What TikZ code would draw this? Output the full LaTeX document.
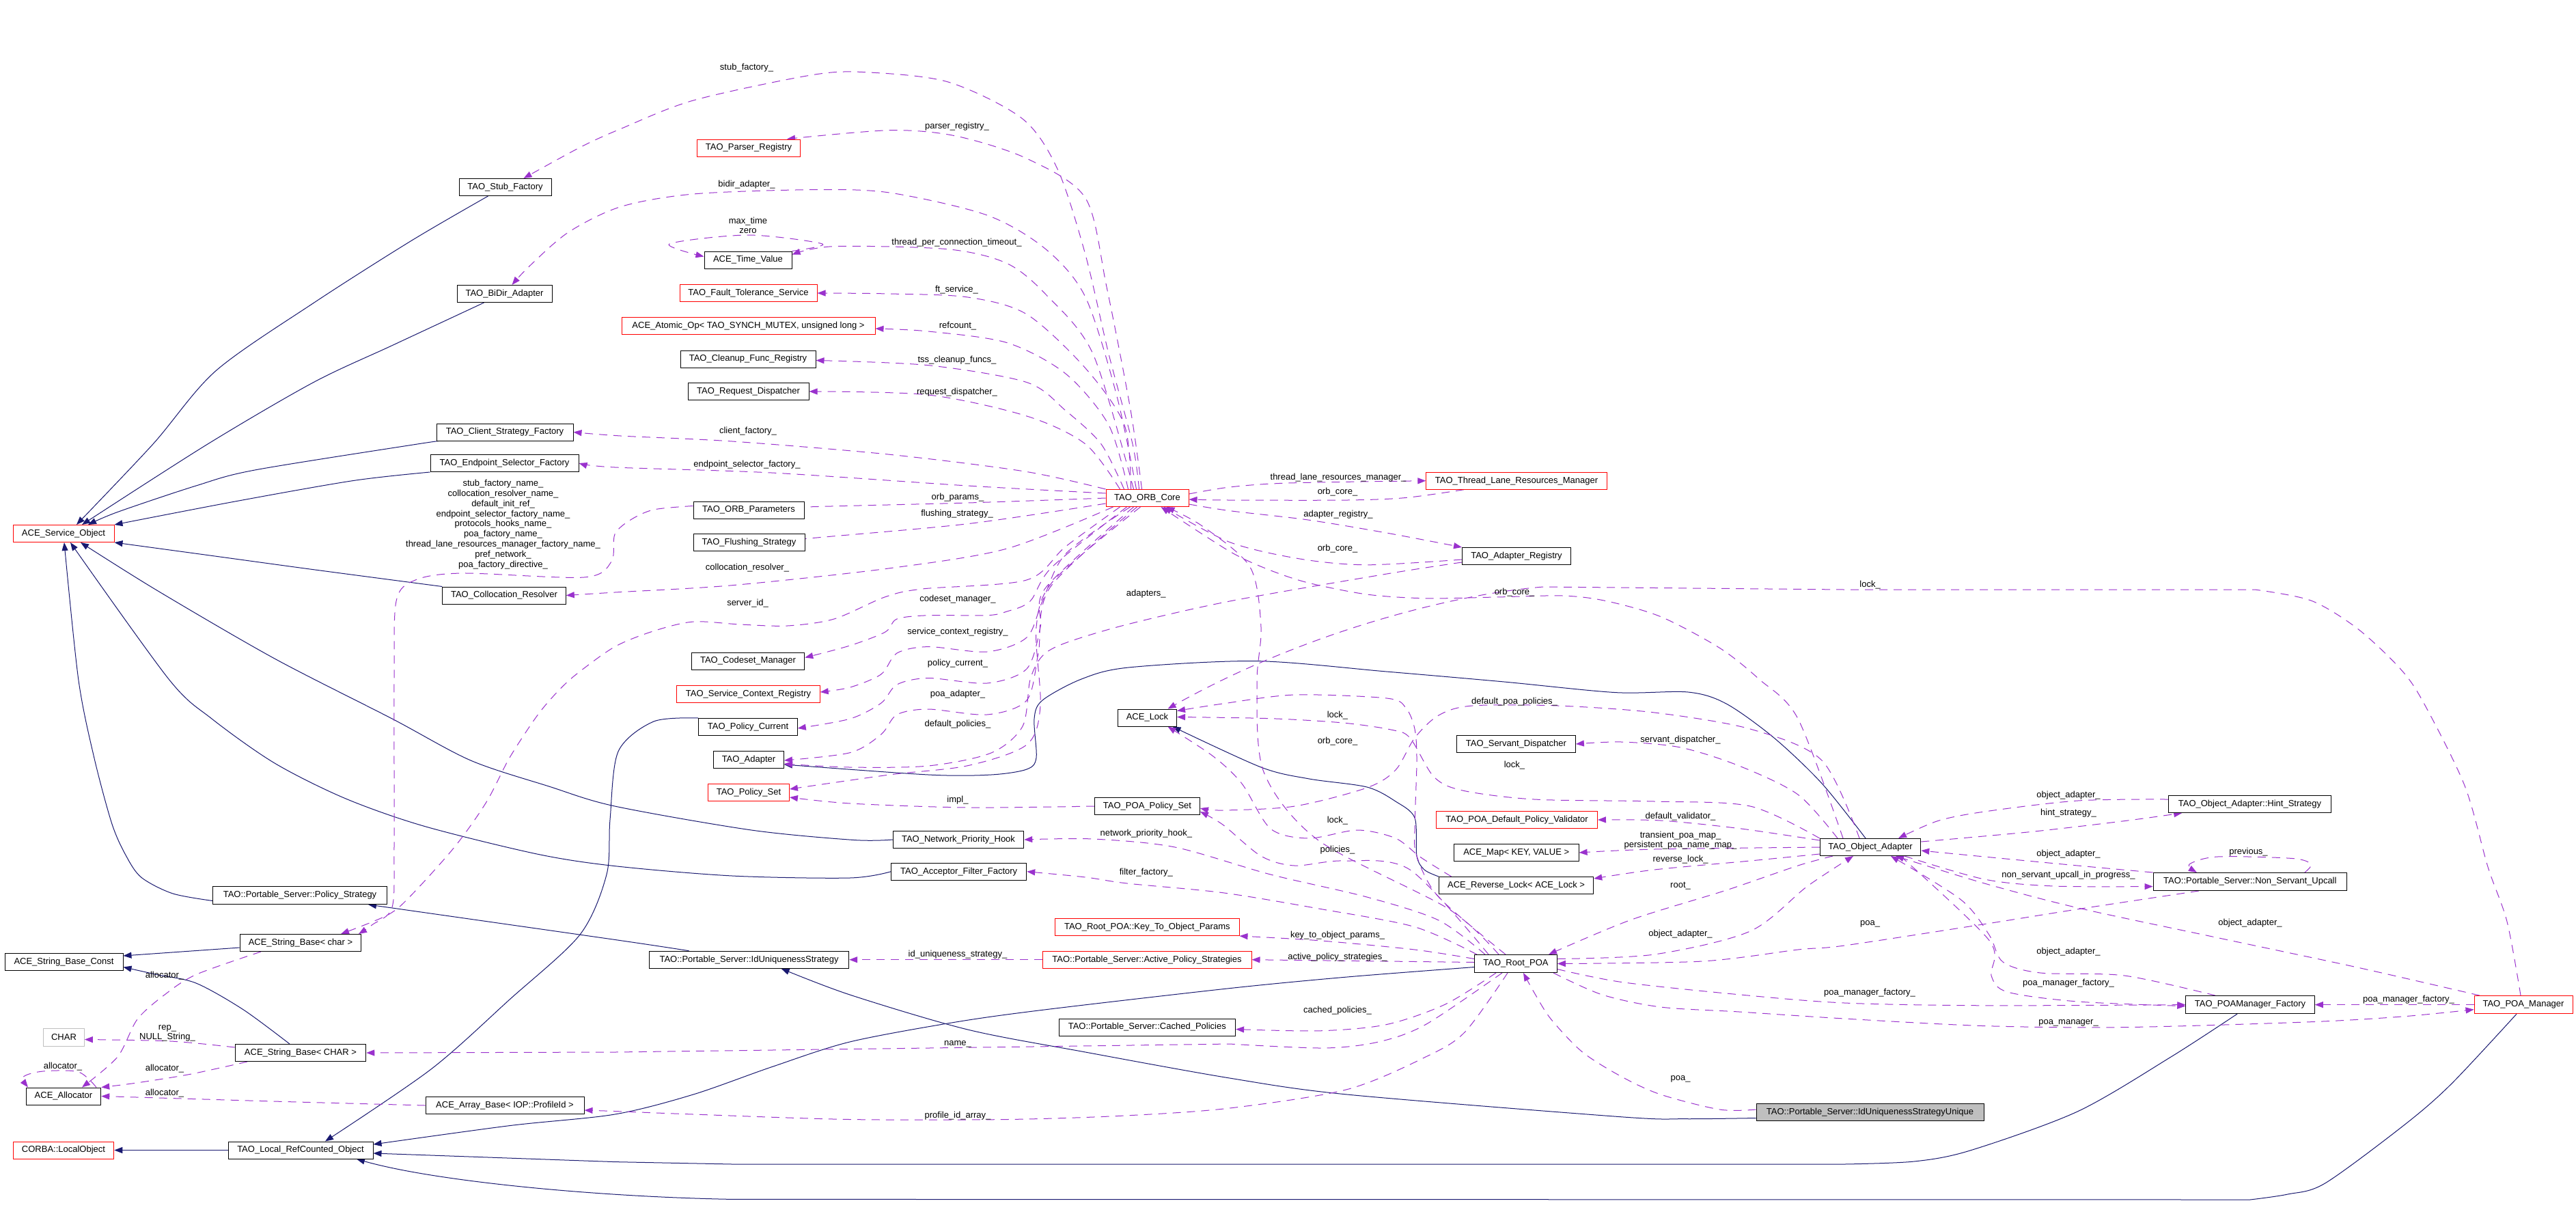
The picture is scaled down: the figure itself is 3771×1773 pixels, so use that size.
\documentclass[tikz,border=0pt]{standalone}
\usepackage{fontspec}
\newfontfamily\dox{Liberation Sans}
\usetikzlibrary{arrows.meta}
\definecolor{dorchid}{RGB}{154,50,205}
\definecolor{mnblue}{RGB}{25,25,112}
\definecolor{greyb}{RGB}{191,191,191}
\pgfdeclarelayer{bg}
\pgfsetlayers{bg,main}
\tikzset{
  every node/.style={font=\dox\fontsize{13pt}{15pt}\selectfont},
  box/.style={draw=black, line width=1pt, fill=white, inner sep=0pt, minimum height=25pt},
  redbox/.style={box, draw=red},
  usage/.style={draw=dorchid, line width=1pt, dash pattern=on 12pt off 9pt, -{Triangle[length=12pt,width=9pt]}},
  inherit/.style={draw=mnblue, line width=1pt, -{Triangle[length=12pt,width=9pt]}},
  lbl/.style={inner sep=0pt},
}
\begin{document}
\begin{tikzpicture}[x=1pt,y=-1pt]
\useasboundingbox (0,0) rectangle (3771,1773);
% ---------------- nodes
\node[box, minimum width=135pt] (stub) at (739.5,274) {TAO\_Stub\_Factory};
\node[box, minimum width=139pt] (bidir) at (738.5,430) {TAO\_BiDir\_Adapter};
\node[box, minimum width=200pt] (csf) at (739,632.5) {TAO\_Client\_Strategy\_Factory};
\node[box, minimum width=217pt] (esf) at (738.5,678) {TAO\_Endpoint\_Selector\_Factory};
\node[redbox, minimum width=148pt] (aso) at (93,781) {ACE\_Service\_Object};
\node[box, minimum width=180.5pt] (coll) at (738,871.5) {TAO\_Collocation\_Resolver};
\node[redbox, minimum width=151pt] (parser) at (1096,216.5) {TAO\_Parser\_Registry};
\node[box, minimum width=128pt] (timev) at (1095,380.5) {ACE\_Time\_Value};
\node[redbox, minimum width=201pt] (fts) at (1095.5,429) {TAO\_Fault\_Tolerance\_Service};
\node[redbox, minimum width=371pt] (atomic) at (1095.5,477) {ACE\_Atomic\_Op< TAO\_SYNCH\_MUTEX, unsigned long >};
\node[box, minimum width=198pt] (cfr) at (1095,525.5) {TAO\_Cleanup\_Func\_Registry};
\node[box, minimum width=177pt] (rd) at (1095.5,573) {TAO\_Request\_Dispatcher};
\node[redbox, minimum width=121pt] (orbcore) at (1679.5,729) {TAO\_ORB\_Core};
\node[box, minimum width=162pt] (orbparams) at (1096,746.5) {TAO\_ORB\_Parameters};
\node[box, minimum width=163pt] (flush) at (1096.5,794) {TAO\_Flushing\_Strategy};
\node[box, minimum width=165.5pt] (codeset) at (1095,967.5) {TAO\_Codeset\_Manager};
\node[redbox, minimum width=209.3pt] (scr) at (1095.5,1016) {TAO\_Service\_Context\_Registry};
\node[box, minimum width=144.5pt] (pcur) at (1095,1064) {TAO\_Policy\_Current};
\node[box, minimum width=102.8pt] (adapter) at (1096,1112) {TAO\_Adapter};
\node[redbox, minimum width=118.8pt] (pset) at (1096,1160) {TAO\_Policy\_Set};
\node[box, minimum width=86pt] (acelock) at (1679.5,1050.5) {ACE\_Lock};
\node[box, minimum width=153.8pt] (poapset) at (1679.5,1180) {TAO\_POA\_Policy\_Set};
\node[box, minimum width=191.5pt] (nph) at (1403,1229) {TAO\_Network\_Priority\_Hook};
\node[box, minimum width=198pt] (aff) at (1403.7,1275.7) {TAO\_Acceptor\_Filter\_Factory};
\node[redbox, minimum width=269.4pt] (ktop) at (1679.3,1357) {TAO\_Root\_POA::Key\_To\_Object\_Params};
\node[box, minimum width=292.2pt] (idus) at (1096.6,1404.7) {TAO::Portable\_Server::IdUniquenessStrategy};
\node[redbox, minimum width=306pt] (aps) at (1679,1404.7) {TAO::Portable\_Server::Active\_Policy\_Strategies};
\node[box, minimum width=258.6pt] (cpol) at (1679.3,1503.5) {TAO::Portable\_Server::Cached\_Policies};
\node[redbox, minimum width=264.4pt] (tlrm) at (2220,703.7) {TAO\_Thread\_Lane\_Resources\_Manager};
\node[box, minimum width=159pt] (areg) at (2220,814) {TAO\_Adapter\_Registry};
\node[box, minimum width=173.9pt] (sdisp) at (2219.4,1089) {TAO\_Servant\_Dispatcher};
\node[redbox, minimum width=235.9pt] (pdpv) at (2220.5,1200) {TAO\_POA\_Default\_Policy\_Validator};
\node[box, minimum width=182.7pt] (acemap) at (2219.7,1248) {ACE\_Map< KEY, VALUE >};
\node[box, minimum width=226.2pt] (rlock) at (2219.6,1296) {ACE\_Reverse\_Lock< ACE\_Lock >};
\node[box, minimum width=120.5pt, minimum height=26pt] (rootpoa) at (2219,1410.5) {TAO\_Root\_POA};
\node[box, minimum width=333pt, fill=greyb] (idusu) at (2737.5,1628) {TAO::Portable\_Server::IdUniquenessStrategyUnique};
\node[box, minimum width=147.5pt] (oa) at (2738,1240) {TAO\_Object\_Adapter};
\node[box, minimum width=237.7pt] (hint) at (3293.5,1177) {TAO\_Object\_Adapter::Hint\_Strategy};
\node[box, minimum width=283.6pt, minimum height=26pt] (nsu) at (3293.8,1290.5) {TAO::Portable\_Server::Non\_Servant\_Upcall};
\node[box, minimum width=188.5pt, minimum height=26pt] (poamf) at (3294,1470.6) {TAO\_POAManager\_Factory};
\node[redbox, minimum width=144pt, minimum height=26pt] (poam) at (3694,1470.6) {TAO\_POA\_Manager};
\node[box, minimum width=254.5pt, minimum height=26pt] (polstrat) at (439,1310.5) {TAO::Portable\_Server::Policy\_Strategy};
\node[box, minimum width=177.6pt] (sbchar) at (440,1380) {ACE\_String\_Base< char >};
\node[box, minimum width=173pt] (sbconst) at (93.5,1408) {ACE\_String\_Base\_Const};
\node[box, draw=greyb, minimum width=59.7pt, minimum height=26pt] (charn) at (93.5,1518.5) {CHAR};
\node[box, minimum width=191.5pt] (sbCHAR) at (440,1541) {ACE\_String\_Base< CHAR >};
\node[box, minimum width=109.5pt] (alloc) at (93,1604.5) {ACE\_Allocator};
\node[box, minimum width=232pt] (arrb) at (739,1618) {ACE\_Array\_Base< IOP::ProfileId >};
\node[redbox, minimum width=147.5pt] (corba) at (93,1683.5) {CORBA::LocalObject};
\node[box, minimum width=212pt] (lro) at (440,1683.5) {TAO\_Local\_RefCounted\_Object};
% ---------------- labels
\node[lbl] (l1) at (1093,99.5) {stub\_factory\_};
\node[lbl] (l2) at (1401,185) {parser\_registry\_};
\node[lbl] (l3) at (1093,270) {bidir\_adapter\_};
\node[lbl, align=center, font=\dox\fontsize{13pt}{14.5pt}\selectfont] (l4) at (1095,329.8) {max\_time\\zero};
\node[lbl] (l5) at (1400.5,355) {thread\_per\_connection\_timeout\_};
\node[lbl] (l6) at (1400.5,424.5) {ft\_service\_};
\node[lbl] (l7) at (1402,477) {refcount\_};
\node[lbl] (l8) at (1401,527) {tss\_cleanup\_funcs\_};
\node[lbl] (l9) at (1401,574.5) {request\_dispatcher\_};
\node[lbl] (l10) at (1095,631) {client\_factory\_};
\node[lbl] (l11) at (1093.5,680) {endpoint\_selector\_factory\_};
\node[lbl, align=center, font=\dox\fontsize{13pt}{14.8pt}\selectfont] (l12) at (736.5,767.6) {stub\_factory\_name\_\\collocation\_resolver\_name\_\\default\_init\_ref\_\\endpoint\_selector\_factory\_name\_\\protocols\_hooks\_name\_\\poa\_factory\_name\_\\thread\_lane\_resources\_manager\_factory\_name\_\\pref\_network\_\\poa\_factory\_directive\_};
\node[lbl] (l13) at (1402,728) {orb\_params\_};
\node[lbl] (l14) at (1401,752.6) {flushing\_strategy\_};
\node[lbl] (l15) at (1094,830.6) {collocation\_resolver\_};
\node[lbl] (l16) at (1094.6,882.7) {server\_id\_};
\node[lbl] (l17) at (1402,877) {codeset\_manager\_};
\node[lbl] (l18) at (1677.8,869) {adapters\_};
\node[lbl] (l19) at (1402,924.8) {service\_context\_registry\_};
\node[lbl] (l20) at (1402,971) {policy\_current\_};
\node[lbl] (l21) at (1402,1015.9) {poa\_adapter\_};
\node[lbl] (l22) at (1402,1060.6) {default\_policies\_};
\node[lbl] (l23) at (1402,1171) {impl\_};
\node[lbl] (l24) at (1677.8,1220) {network\_priority\_hook\_};
\node[lbl] (l25) at (1677.8,1276.7) {filter\_factory\_};
\node[lbl] (l26) at (1402,1397) {id\_uniqueness\_strategy\_};
\node[lbl] (l27) at (1402,1527.8) {name\_};
\node[lbl] (l28) at (1402,1633) {profile\_id\_array\_};
\node[lbl] (l29) at (1959,699) {thread\_lane\_resources\_manager\_};
\node[lbl] (l30) at (1958,720) {orb\_core\_};
\node[lbl] (l31) at (1959,753) {adapter\_registry\_};
\node[lbl] (l32) at (1958,803) {orb\_core\_};
\node[lbl] (l33) at (2217,867) {orb\_core\_};
\node[lbl] (l34) at (2737.6,856) {lock\_};
\node[lbl] (l35) at (2217,1027) {default\_poa\_policies\_};
\node[lbl] (l36) at (1958,1047) {lock\_};
\node[lbl] (l37) at (1958,1085) {orb\_core\_};
\node[lbl] (l38) at (2460,1083.6) {servant\_dispatcher\_};
\node[lbl] (l39) at (2217,1119.6) {lock\_};
\node[lbl] (l40) at (1958,1200.7) {lock\_};
\node[lbl] (l41) at (2460,1194.6) {default\_validator\_};
\node[lbl, align=center, font=\dox\fontsize{13pt}{13.8pt}\selectfont] (l42) at (2460,1229.8) {transient\_poa\_map\_\\persistent\_poa\_name\_map\_};
\node[lbl] (l43) at (1958,1244) {policies\_};
\node[lbl] (l44) at (2460,1258.5) {reverse\_lock\_};
\node[lbl] (l45) at (2460,1297) {root\_};
\node[lbl] (l46) at (1958,1369) {key\_to\_object\_params\_};
\node[lbl] (l47) at (1958,1401) {active\_policy\_strategies\_};
\node[lbl] (l48) at (2460,1367) {object\_adapter\_};
\node[lbl] (l49) at (1958,1479.5) {cached\_policies\_};
\node[lbl] (l50) at (2460,1579) {poa\_};
\node[lbl] (l51) at (2737,1453) {poa\_manager\_factory\_};
\node[lbl] (l52) at (241,1428) {allocator\_};
\node[lbl, align=center, font=\dox\fontsize{13pt}{14pt}\selectfont] (l53) at (245,1512) {rep\_\\NULL\_String\_};
\node[lbl] (l54) at (92,1561) {allocator\_};
\node[lbl] (l55) at (241,1564) {allocator\_};
\node[lbl] (l56) at (241,1600.5) {allocator\_};
\node[lbl] (l57) at (3028,1164) {object\_adapter\_};
\node[lbl] (l58) at (3028,1190.5) {hint\_strategy\_};
\node[lbl] (l59) at (3028,1250.5) {object\_adapter\_};
\node[lbl] (l60) at (3291.5,1247) {previous\_};
\node[lbl] (l61) at (3028,1281) {non\_servant\_upcall\_in\_progress\_};
\node[lbl] (l62) at (2737.6,1352) {poa\_};
\node[lbl] (l63) at (3294,1351) {object\_adapter\_};
\node[lbl] (l64) at (3028,1393) {object\_adapter\_};
\node[lbl] (l65) at (3028,1439) {poa\_manager\_factory\_};
\node[lbl] (l66) at (3526,1463) {poa\_manager\_factory\_};
\node[lbl] (l67) at (3028,1497) {poa\_manager\_};
% ---------------- edges
\begin{pgfonlayer}{bg}
\fill[white] (0,0) rectangle (3771,1773);
% inheritance
\draw[inherit] plot[smooth] coordinates {([xshift=-25pt]stub.south) (602.7,352) (459,443.5) (315.7,543) (224,650) ([xshift=19pt]aso.north)};
\draw[inherit] plot[smooth] coordinates {([xshift=-30pt]bidir.south) (574,505.7) (459,559.6) (304,650) ([xshift=27pt]aso.north)};
\draw[inherit] plot[smooth] coordinates {([xshift=6pt]csf.south west) (611,650) (373,688) (287,711) (172,749.5) ([xshift=36pt]aso.north)};
\draw[inherit] plot[smooth] coordinates {(esf.south west) (516.6,703.6) (344,734) (aso.north east)};
\draw[inherit] plot[smooth] coordinates {(coll.north west) (459,833.7) (300,812) (aso.south east)};
\draw[inherit] plot[smooth] coordinates {(nph.west) (1250,1229.5) (1100,1215) (900,1180) (803.6,1151) (689,1113) (574,1052) (402,964) (229.6,864) ([xshift=25pt]aso.south)};
\draw[inherit] plot[smooth] coordinates {(aff.west) (1244,1285) (1072,1282) (900,1267.6) (786,1250) (620,1209) (505,1168.5) (402,1117) (310,1052) (247,994) ([xshift=10pt]aso.south)};
\draw[inherit] plot[smooth] coordinates {([yshift=-8pt]polstrat.west) (252.6,1307.8) (206.6,1284) (183.7,1251) (163.6,1205) (137.8,1109) (114.8,994.4) ([xshift=1pt]aso.south)};
\draw[inherit] plot[smooth] coordinates {([xshift=-88pt]idus.north) (900,1375.4) ([xshift=100pt]polstrat.south)};
\draw[inherit] ([yshift=-7pt]sbchar.west) -- ([yshift=9pt]sbconst.east);
\draw[inherit] plot[smooth] coordinates {([xshift=-16pt]sbCHAR.north) (356,1477.7) (287,1439) (229.6,1426.5) ([yshift=-7.5pt]sbconst.east)};
\draw[inherit] (lro.west) -- (corba.east);
\draw[inherit] plot[smooth] coordinates {(pcur.north west) (957,1056) (905,1100) (893,1200) (888,1280) (849,1368) (746,1463) (631,1565) ([xshift=36pt]lro.north)};
\draw[inherit] plot[smooth] coordinates {([yshift=-5pt]rootpoa.west) (1972,1430) (1800,1446.6) (1531,1477.7) (1399,1496) (1244,1525) (1129.6,1561.7) (1014.8,1602) (900,1631) (746,1647.6) ([yshift=8.5pt]lro.east)};
\draw[inherit] plot[smooth] coordinates {([xshift=-19pt]poamf.south) (3178,1547) (3041.5,1626.8) (2884,1684) (2802,1700) (2700,1704)} -- (1072,1704) -- (900,1700.6) -- ([yshift=-4.5pt]lro.east);
\draw[inherit] plot[smooth] coordinates {([xshift=-10pt]poam.south) (3588,1587) (3519.6,1646.6) (3403.5,1732) (3349,1748) (3294,1756)} -- (1072,1755.4) .. controls (880,1752) and (640,1730) .. ([xshift=82pt]lro.south);
\draw[inherit] plot[smooth] coordinates {([yshift=-8.5pt]idusu.west) (2466,1637.7) (2374,1634.8) (1972,1602) (1800,1578) (1589,1540) (1416.6,1507) (1244,1456) ([xshift=47pt]idus.south)};
\draw[inherit] plot[smooth] coordinates {([xshift=-7pt]oa.north) (2667,1146.7) (2597,1080) (2527,1030) (2471,1013) (2365,1013.6) (2202,998) (2029.6,983) (1840,967.6) (1652,977) (1583,994) (1526,1025) (1514,1052) (1517,1109) (1503,1126) (1451,1134) (1359,1134) ([yshift=-7pt]adapter.east)};
\draw[inherit] plot[smooth] coordinates {(rlock.north west) (2085,1273) (2074,1253) (2071,1197) (2043,1173) (2001,1152) (1916.6,1140) (1846,1123) ([xshift=37pt]acelock.south)};
% usage from ORB core
\draw[usage] plot[smooth] coordinates {([xshift=-12pt]orbcore.north) (1658,650) (1623,518) (1589,373) (1548.6,248.7) (1497,174) (1388,120) (1267,105.7) (1187,110) (1014.8,147) (908.6,188.6) (849.5,215.5) ([xshift=27pt]stub.north)};
\draw[usage] plot[smooth] coordinates {([xshift=-8pt]orbcore.north) (1655,600) (1620,420) (1589,290) (1503,232) (1399,199) (1302,190.7) ([xshift=56pt]parser.north)};
\draw[usage] plot[smooth] coordinates {([xshift=-16pt]orbcore.north) (1635,580) (1589,435) (1531,364.8) (1445,315) (1302,282) (1187,277.7) (1014.8,284) (908.6,302.6) (832,340) (775,389.6) ([xshift=11pt]bidir.north)};
\draw[usage] plot[smooth] coordinates {([xshift=-20pt]orbcore.north) (1600,518) (1531,431) (1474,385.5) (1388,364.8) (1221,360.6) ([yshift=8pt]timev.east)};
\draw[usage] plot[smooth] coordinates {(timev.north east) (1204,357) (1095,344) (980,357) ([yshift=5pt]timev.west)};
\draw[usage] plot[smooth] coordinates {([xshift=-24pt]orbcore.north) (1646,622) (1589,539) (1503,460) (1416.6,435) (1302,430) (fts.east)};
\draw[usage] plot[smooth] coordinates {([xshift=-28pt]orbcore.north) (1623,622) (1560,547) (1474,501.6) (1359,485) ([yshift=-4pt]atomic.east)};
\draw[usage] plot[smooth] coordinates {([xshift=-34pt]orbcore.north) (1612,650) (1560,601) (1503,559.6) (1359,534.7) ([yshift=-2pt]cfr.east)};
\draw[usage] plot[smooth] coordinates {([xshift=-40pt]orbcore.north) (1589,650) (1503,609) (1359,578) (rd.east)};
\draw[usage] plot[smooth] coordinates {(orbcore.north west) (1500,690) (1300,665) (1072,646) (908.6,638) (csf.east)};
\draw[usage] plot[smooth] coordinates {([yshift=7pt]orbcore.west) (1416.6,711) (1129.6,692) (900,684) (esf.east)};
\draw[usage] plot[smooth] coordinates {(orbcore.west) (1416.6,736) (1187,741.8) ([yshift=3pt]orbparams.east)};
\draw[usage] plot[smooth] coordinates {([yshift=-8pt]orbcore.west) (1416.6,766.7) (1187,787.8) ([yshift=4pt]flush.east)};
\draw[usage] plot[smooth] coordinates {([xshift=-50pt]orbcore.south) (1474,803) (1302,831.8) (1072,856.7) (900,867) (coll.east)};
\draw[usage] plot[smooth] coordinates {([xshift=-40pt]orbcore.south) (1560,800) (1502.7,849) (1350,862) (1295,874) (1221,906) (1152.6,916) (1083.7,914) (1015,910) (957,923.6) (900,946.6) (843.8,986.8) (815,1013.6) (786,1048) (746,1109) (712,1174) (666,1239) (602.7,1309.6) (568,1339) ([xshift=59pt]sbchar.north)};
\draw[usage] plot[smooth] coordinates {([yshift=6pt]orbparams.west) (957,746) (923,761) (900,782) (895,822) (855,845) (677,839) (608,849) (580,880) (577,1000) (577,1239) (574,1328) (545,1353.5) ([xshift=85pt]sbchar.north)};
\draw[usage] plot[smooth] coordinates {([xshift=-30pt]orbcore.south) (1540,830) (1508,880) (1474,895) (1445,900.7) (1359,900.7) (1313,906) (1296,925) (1244,945) ([yshift=5pt]codeset.east)};
\draw[usage] plot[smooth] coordinates {([xshift=-25pt]orbcore.south) (1560,810.7) (1526,880) (1503,933) (1445,954) (1359,946.6) (1313,956) (1290,986.8) (1244.6,1006) ([yshift=3pt]scr.east)};
\draw[usage] plot[smooth] coordinates {([xshift=-20pt]orbcore.south) (1531,860) (1523,918) (1503,979) (1445,1000) (1359,992.5) (1313,1002) (1290,1029) (1244.6,1052) ([yshift=-2pt]pcur.east)};
\draw[usage] plot[smooth] coordinates {([xshift=-15pt]orbcore.south) (1537,860) (1520,956) (1503,1025) (1445,1046) (1359,1038) (1313,1046) (1290,1074.8) (1244.6,1101.6) ([yshift=-1pt]adapter.east)};
\draw[usage] plot[smooth] coordinates {([xshift=-10pt]orbcore.south) (1543,849) (1517,918) (1523,1033) (1503,1090) (1416.6,1120.7) (1302,1134) ([yshift=5pt]pset.east)};
\draw[usage] plot[smooth] coordinates {([yshift=-9pt]areg.west) (2030,840) (1800,880) (1650,914) (1560,941) (1526,960) (1508,995) (1497,1063) (1451,1102) (1359,1121) (1244,1123) ([yshift=-6pt]adapter.east)};
\draw[usage] plot[smooth] coordinates {([yshift=6pt]orbcore.east) (1800,713) (1886,707) (tlrm.west)};
\draw[usage] plot[smooth] coordinates {([xshift=-77pt]tlrm.south) (2058,728.5) (1972,732) (1800,732) ([yshift=-2pt]orbcore.east)};
\draw[usage] plot[smooth] coordinates {([yshift=-9pt]orbcore.east) (1800,747.6) (1915,761) (2029.6,780) (areg.north west)};
\draw[usage] plot[smooth] coordinates {([yshift=-5pt]areg.west) (2001,826.8) (1903,818) (1800,793.5) ([xshift=24pt]orbcore.south)};
\draw[usage] plot[smooth] coordinates {([xshift=-40pt]oa.north) (2632,1052) (2575,994) (2517.5,948.5) (2431,902.6) (2351,879.6) (2288,872) (2190,874) (2087,875.8) (2001,870) (1915,853) (1857,833.7) (1800,807) ([xshift=20pt]orbcore.south)};
\draw[usage] plot[smooth] coordinates {([xshift=-4pt]poam.north) (3670,1349) (3642,1269) (3608,1150) (3547,1027) (3513,978) (3451,920) (3383,879) (3301,863)} -- (2700,863) -- (2259,859) .. controls (2120,870) and (1900,930) .. ([xshift=30pt]acelock.north);
\draw[usage] plot[smooth] coordinates {([xshift=-25pt]rootpoa.north) (2120,1330) (1930,1230) (1850,1130) (1840,1000) (1846,918) (1830,830) (1760,770) ([xshift=28pt]orbcore.south)};
\draw[usage] plot[smooth] coordinates {([xshift=-15pt]rootpoa.north) (2106,1313) (2074,1253) (2071,1213) (2074,1113) (2071,1067) (2058,1036) (2030,1022) (1895,1017) (1790,1030) ([yshift=10pt]acelock.east)};
\draw[usage] plot[smooth] coordinates {(oa.north west) (2562,1180) (2421.7,1173) (2246,1170) (2141,1157) (2099,1137) (2064,1080) (2036,1068) (1965.7,1058) (1860,1051.7) ([yshift=1pt]acelock.east)};
\draw[usage] plot[smooth] coordinates {([xshift=-16pt]oa.north) (2667,1113) (2562,1067) (2422,1043) (2281,1033) (2155,1033) (2106,1047) (2071,1080) (2043,1127) (2001,1153) (1895.5,1180) (1790,1186) ([yshift=-3pt]poapset.east)};
\draw[usage] plot[smooth] coordinates {([xshift=-40pt]rootpoa.north) (2064,1273) (1966,1260) (1895,1267) (1846,1253) (1790,1207) ([yshift=-8pt]poapset.east)};
\draw[usage] plot[smooth] coordinates {([xshift=-95pt]rlock.north) (2080,1255) (2043,1227) (1987,1215) (1916,1227) (1860,1213) (1818,1147) (1776,1107) ([xshift=30pt]acelock.south)};
% usage around object adapter / root poa
\draw[usage] plot[smooth] coordinates {([xshift=-48pt]oa.north) (2632,1163) (2546,1121) (2460,1094) (2374,1086) (sdisp.east)};
\draw[usage] plot[smooth] coordinates {([yshift=10pt]oa.west) (2546,1212.6) (2431,1201) (pdpv.east)};
\draw[usage] plot[smooth] coordinates {(oa.west) (2421.7,1243) (acemap.east)};
\draw[usage] plot[smooth] coordinates {([yshift=-10pt]oa.west) (2562,1260) (2421.7,1273) ([yshift=10pt]rlock.east)};
\draw[usage] plot[smooth] coordinates {([xshift=-55pt]oa.south) (2632,1267) (2527,1303) (2386.6,1346.7) ([xshift=48pt]rootpoa.north)};
\draw[usage] plot[smooth] coordinates {([yshift=7pt]rootpoa.east) (2421.7,1397) (2562,1363) (2646,1297) ([xshift=-25pt]oa.south)};
\draw[usage] plot[smooth] coordinates {([xshift=-75pt]nsu.south) (3041.5,1330.8) (2905,1352.6) (2700,1384) (2632,1390) (2492,1407) (rootpoa.east)};
\draw[usage] plot[smooth] coordinates {([yshift=-8pt]rootpoa.east) (2374,1437.5) (2546,1455.8) (2700,1468) (2905,1471.8) (poamf.west)};
\draw[usage] plot[smooth] coordinates {([xshift=55pt]rootpoa.south) (2345,1455.8) (2431,1474) (2546,1481) (2700,1491) (2905,1501.6) (3110,1503.6) (3383,1495.7) (3519.6,1487.7) ([yshift=-7pt]poam.west)};
\draw[usage] plot[smooth] coordinates {([yshift=4pt]idusu.west) (2517.5,1624) (2431,1602) (2374,1576) (2316.6,1540) (2270.7,1492) (2247.7,1456) ([xshift=11pt]rootpoa.south)};
\draw[usage] plot[smooth] coordinates {([yshift=7pt]rootpoa.west) (2071,1390) (1930.6,1376.7) (ktop.south east)};
\draw[usage] ([yshift=2pt]rootpoa.west) -- (aps.east);
\draw[usage] plot[smooth] coordinates {([xshift=-29pt]rootpoa.south) (2115.7,1470) (2029.6,1499.6) (1932,1508.8) ([yshift=-3pt]cpol.east)};
\draw[usage] plot[smooth] coordinates {([xshift=-20pt]rootpoa.south) (2087,1499.6) (2018,1525) (1938,1534) (1800,1528)} -- (1474,1532.5) -- (900,1540) -- (sbCHAR.east);
\draw[usage] plot[smooth] coordinates {([xshift=-12pt]rootpoa.south) (2144.4,1510.6) (2087,1547) (1972,1594.6) (1800,1622) (1646,1633) (1474,1638.5) (1244,1638.5) (1014.8,1631) (900,1626.5) ([yshift=-7pt]arrb.east)};
\draw[usage] plot[smooth] coordinates {([xshift=-45pt]rootpoa.north) (2106,1347) (2001,1313) (1860,1280) (1720,1240) (1600,1228) (nph.east)};
\draw[usage] plot[smooth] coordinates {([xshift=-57pt]rootpoa.north) (2071,1356.7) (1930.6,1330) (1790,1306.7) (1650,1293) (1589,1284) (aff.east)};
\draw[usage] plot[smooth] coordinates {(poapset.west) (1416.6,1182) (1244.6,1176) ([yshift=-7pt]pset.east)};
\draw[usage] (aps.west) -- (idus.east);
\draw[usage] plot[smooth] coordinates {([yshift=7pt]hint.west) (3041.5,1172) (2905,1188) (2836.6,1201.6) ([xshift=41pt]oa.north)};
\draw[usage] plot[smooth] coordinates {([yshift=8pt]oa.east) (2973,1217.5) (3110,1201.6) ([xshift=20pt]hint.south west)};
\draw[usage] plot[smooth] coordinates {(nsu.north west) (3041.5,1267) (2905,1254) ([yshift=-5pt]oa.east)};
\draw[usage] plot[smooth] coordinates {([xshift=50pt]oa.south) (2905,1287) (3007,1297) ([yshift=-7pt]nsu.west)};
\draw[usage] plot[smooth] coordinates {([xshift=80pt]nsu.north) (3383,1265) (3356,1256.5) (3246,1254) (3205,1265) ([xshift=-78pt]nsu.north)};
\draw[usage] plot[smooth] coordinates {([xshift=-64pt]poam.north) (3451,1416) (3246,1372.5) (3041.5,1328.8) (2905,1293) ([xshift=37pt]oa.south)};
\draw[usage] plot[smooth] coordinates {([xshift=-51pt]poamf.north) (3110,1428) (2987,1424) (2932,1408) (2912,1368.5) (2870.7,1317) ([xshift=30pt]oa.south)};
\draw[usage] plot[smooth] coordinates {([xshift=44pt]oa.south) (2912,1376.5) (2915,1428) (2939,1452) (3041.5,1466) ([yshift=-2pt]poamf.west)};
\draw[usage] (poam.west) -- (poamf.east);
% string / allocator area
\draw[usage] plot[smooth] coordinates {([xshift=48pt]alloc.north) (115,1569) (63,1568) (34.4,1576) ([xshift=-52pt]alloc.north)};
\draw[usage] plot[smooth] coordinates {([xshift=-58pt]sbchar.south) (287,1426.5) (241,1456) (201,1492) (172,1547) ([xshift=27pt]alloc.north)};
\draw[usage] plot[smooth] coordinates {([xshift=-78pt]sbCHAR.south) (280,1572) (200,1585) (alloc.north east)};
\draw[usage] plot[smooth] coordinates {(arrb.west) (400,1612) (200,1606) (alloc.east)};
\draw[usage] plot[smooth] coordinates {([yshift=8pt]sbCHAR.west) (250,1524) ([yshift=-3pt]charn.east)};
\end{pgfonlayer}
\end{tikzpicture}
\end{document}
